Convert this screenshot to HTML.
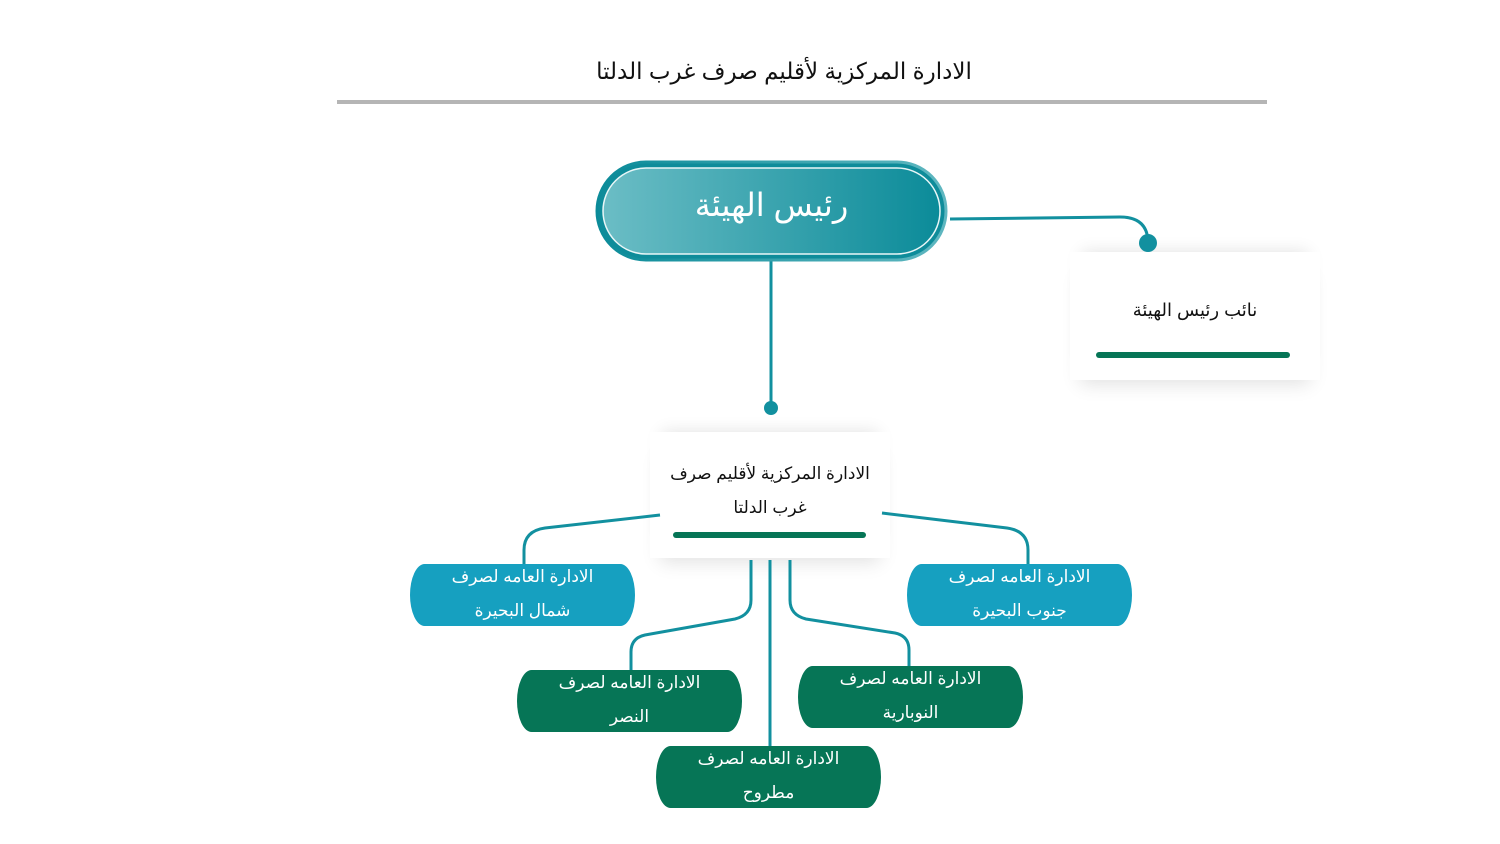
<!DOCTYPE html>
<html><head><meta charset="utf-8"><style>
body{margin:0;width:1500px;height:844px;background:#fff;position:relative;overflow:hidden;font-family:"Liberation Sans","Noto Sans CJK SC","DejaVu Sans",sans-serif;}
.a{position:absolute;}
.t{position:absolute;text-align:center;direction:rtl;white-space:nowrap;}
.box{position:absolute;width:225px;height:62px;border-radius:16px/34px;color:#fff;font-size:17px;text-align:center;direction:rtl;line-height:34px;}
.box span{position:relative;top:-4px;}
.blue{background:#16a0c0;}
.green{background:#067556;}
.card{position:absolute;background:#fff;box-shadow:0 14px 18px -10px rgba(0,0,0,0.12),0 -12px 16px -12px rgba(0,0,0,0.12);}
</style></head><body>
<div class="t" style="left:319px;width:930px;top:58px;font-size:23px;color:#111;">الادارة المركزية لأقليم صرف غرب الدلتا</div>
<div class="a" style="left:337px;top:100px;width:930px;height:4px;background:#b5b5b5;"></div>

<div class="card" style="left:1070px;top:252px;width:250px;height:128px;"></div>
<div class="t" style="left:1070px;width:250px;top:300px;font-size:18px;color:#111;">نائب رئيس الهيئة</div>
<div class="a" style="left:1096px;top:352px;width:194px;height:6px;border-radius:3px;background:#067556;"></div>

<div class="card" style="left:650px;top:432px;width:240px;height:126px;"></div>
<div class="t" style="left:650px;width:240px;top:457px;font-size:17px;color:#111;line-height:34px;">الادارة المركزية لأقليم صرف<br>غرب الدلتا</div>
<div class="a" style="left:673px;top:532px;width:193px;height:6px;border-radius:3px;background:#067556;"></div>

<svg class="a" style="left:0;top:0" width="1500" height="844">
<g fill="none" stroke="#12909f" stroke-width="3">
<path d="M950 219 L1120 217 Q1148 217 1148 243"/>
<path d="M771 261 L771 408"/>
<path d="M660 515 L545 528 Q524 531 524 550 L524 564"/>
<path d="M882 513 L1007 528 Q1028 531 1028 550 L1028 564"/>
<path d="M751 560 L751 600 Q751 615 735 619 L645 635 Q631 638 631 652 L631 670"/>
<path d="M770 560 L770 746"/>
<path d="M790 560 L790 600 Q790 615 806 619 L895 633 Q909 636 909 650 L909 666"/>
</g>
<circle cx="1148" cy="243" r="9" fill="#12909f"/>
<circle cx="771" cy="408" r="7" fill="#12909f"/>
<defs><linearGradient id="g" x1="0" x2="1"><stop offset="0" stop-color="#6bbdc5"/><stop offset="1" stop-color="#0b8b99"/></linearGradient>
<linearGradient id="g2" x1="0" x2="1"><stop offset="0" stop-color="#0b8b99"/><stop offset="1" stop-color="#5fb7c0"/></linearGradient></defs>
<rect x="597" y="162" width="349" height="98" rx="49" fill="#0e8c9a" stroke="url(#g2)" stroke-width="3"/>
<rect x="603" y="168" width="337" height="86" rx="43" fill="url(#g)" stroke="#e8f6f7" stroke-width="1.5"/>
</svg>
<div class="t" style="left:597px;width:349px;top:186px;font-size:32px;color:#fff;">رئيس الهيئة</div>

<div class="box blue" style="left:410px;top:564px;"><span>الادارة العامه لصرف<br>شمال البحيرة</span></div>
<div class="box blue" style="left:907px;top:564px;"><span>الادارة العامه لصرف<br>جنوب البحيرة</span></div>
<div class="box green" style="left:517px;top:670px;"><span>الادارة العامه لصرف<br>النصر</span></div>
<div class="box green" style="left:798px;top:666px;"><span>الادارة العامه لصرف<br>النوبارية</span></div>
<div class="box green" style="left:656px;top:746px;"><span>الادارة العامه لصرف<br>مطروح</span></div>
</body></html>
